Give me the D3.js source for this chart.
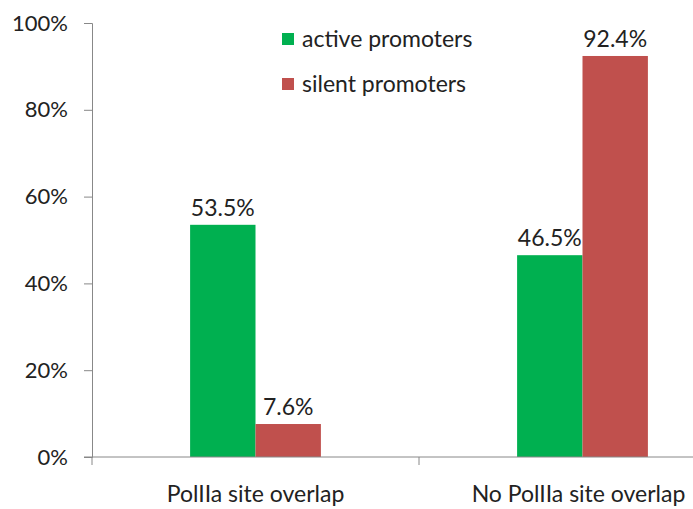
<!DOCTYPE html>
<html>
<head>
<meta charset="utf-8">
<script src="https://cdn.jsdelivr.net/npm/d3@7"></script>
<style>
  html, body { margin: 0; padding: 0; background: #fff; }
  svg { display: block; }
  text { font-family: Lato, "Open Sans", sans-serif; fill: #222; }
</style>
</head>
<body>
<svg id="chart" width="693" height="509"></svg>
<script>
// Share of promoters by PolIIa site overlap
const categories = ["PolIIa site overlap", "No PolIIa site overlap"];
const seriesNames = ["active promoters", "silent promoters"];
const activeValues = [53.5, 46.5];
const silentValues = [7.6, 92.4];
const yTicks = [0, 20, 40, 60, 80, 100];
const colors = ["#00B050", "#C0504D"];

const svg = d3.select("#chart");
const margin = { left: 92, top: 23, bottom: 52 };
const catWidth = 327;
const plotW = catWidth * categories.length;
const plotH = 509 - margin.top - margin.bottom;

const x = d3.scaleBand().domain(categories).range([margin.left, margin.left + plotW]);
const y = d3.scaleLinear().domain([0, 100]).range([margin.top + plotH, margin.top]);
const xInner = d3.scaleBand().domain(seriesNames).range([0, x.bandwidth()]).paddingInner(0).paddingOuter(1.5);

const axisColor = "#888";

// y axis
const yAxis = svg.append("g")
  .attr("transform", `translate(${margin.left},0)`)
  .call(d3.axisLeft(y).tickValues(yTicks).tickSize(8).tickPadding(16).tickFormat(d => d + "%"));
yAxis.select(".domain").attr("stroke", axisColor);
yAxis.selectAll(".tick line").attr("stroke", axisColor);
yAxis.selectAll(".tick text").attr("font-size", 22).attr("font-family", "Lato, sans-serif").attr("fill", "#222");

// bars
const rows = categories.map((c, i) => ({ cat: c, vals: [activeValues[i], silentValues[i]] }));
const groups = svg.append("g").selectAll("g").data(rows).join("g")
  .attr("transform", d => `translate(${x(d.cat)},0)`);
groups.selectAll("rect").data(d => d.vals.map((v, j) => ({ v, s: seriesNames[j], j })))
  .join("rect")
  .attr("x", d => xInner(d.s))
  .attr("width", xInner.bandwidth())
  .attr("y", d => y(d.v))
  .attr("height", d => y(0) - y(d.v))
  .attr("fill", d => colors[d.j]);
groups.selectAll("text").data(d => d.vals.map((v, j) => ({ v, s: seriesNames[j], j })))
  .join("text")
  .attr("x", d => xInner(d.s) + xInner.bandwidth() / 2)
  .attr("y", d => y(d.v) - 9)
  .attr("text-anchor", "middle")
  .attr("font-size", 23)
  .text(d => d.v.toFixed(1) + "%");

// x axis
const xAxis = svg.append("g")
  .attr("transform", `translate(0,${y(0)})`);
xAxis.append("line")
  .attr("x1", margin.left - 8).attr("x2", margin.left + plotW)
  .attr("stroke", axisColor);
const catEdges = d3.range(categories.length + 1).map(i => margin.left + i * x.step());
xAxis.selectAll(".edge").data(catEdges).join("line")
  .attr("class", "edge")
  .attr("x1", d => d).attr("x2", d => d)
  .attr("y1", 0).attr("y2", 8)
  .attr("stroke", axisColor);
xAxis.selectAll(".cat").data(categories).join("text")
  .attr("class", "cat")
  .attr("x", (d, i) => x(d) + x.bandwidth() / 2 - i * 4)
  .attr("y", 45)
  .attr("text-anchor", "middle")
  .attr("font-size", 23)
  .text(d => d);

// legend
const legend = svg.append("g").attr("transform", "translate(282,33)");
const li = legend.selectAll("g").data(seriesNames).join("g")
  .attr("transform", (d, i) => `translate(0,${i * 45})`);
li.append("rect").attr("width", 12).attr("height", 12).attr("fill", (d, i) => colors[i]);
li.append("text").attr("x", 20).attr("y", 14).attr("font-size", 23).text(d => d);
</script>
</body>
</html>
